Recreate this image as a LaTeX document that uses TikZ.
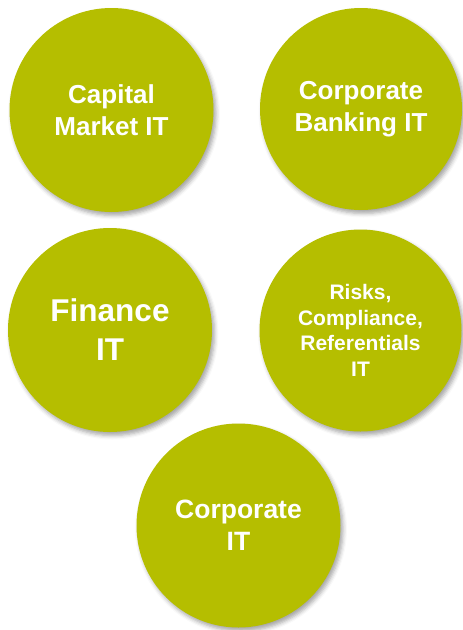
\documentclass[tikz,border=0pt]{standalone}
\usepackage{fontspec}
\setmainfont{Liberation Sans}
\usetikzlibrary{shadows.blur}
\definecolor{olive}{HTML}{B5BE00}
\tikzset{
  bubble/.style={circle, fill=olive, minimum size=#1, inner sep=0pt,
    blur shadow={shadow xshift=2.5pt, shadow yshift=-3.5pt, shadow blur radius=4pt, shadow opacity=35}},
  bubble/.default=204pt,
  label/.style={text=white, align=center, inner sep=0pt}
}
\begin{document}
\begin{tikzpicture}[x=1pt,y=-1pt]
\useasboundingbox (0,0) rectangle (463,630);
\node[bubble] (cm) at (111.5,110) {};
\node[label, font=\fontsize{26}{32}\selectfont\bfseries] (cmt) at ([yshift=0pt]cm.center) {Capital\\Market IT};
\node[bubble=202pt] (cb) at (361,109) {};
\node[label, font=\fontsize{26}{32}\selectfont\bfseries] (cbt) at (cb.center) {Corporate\\Banking IT};
\node[bubble] (fi) at (110,330) {};
\node[label, font=\fontsize{31.5}{39}\selectfont\bfseries] (fit) at (fi.center) {Finance\\IT};
\node[bubble=202pt] (rc) at (360.5,330.5) {};
\node[label, font=\fontsize{21}{25.7}\selectfont\bfseries] (rct) at (rc.center) {Risks,\\Compliance,\\Referentials\\IT};
\node[bubble] (co) at (238.5,525.5) {};
\node[label, font=\fontsize{26.5}{32}\selectfont\bfseries] (cot) at (co.center) {Corporate\\IT};
\end{tikzpicture}
\end{document}
